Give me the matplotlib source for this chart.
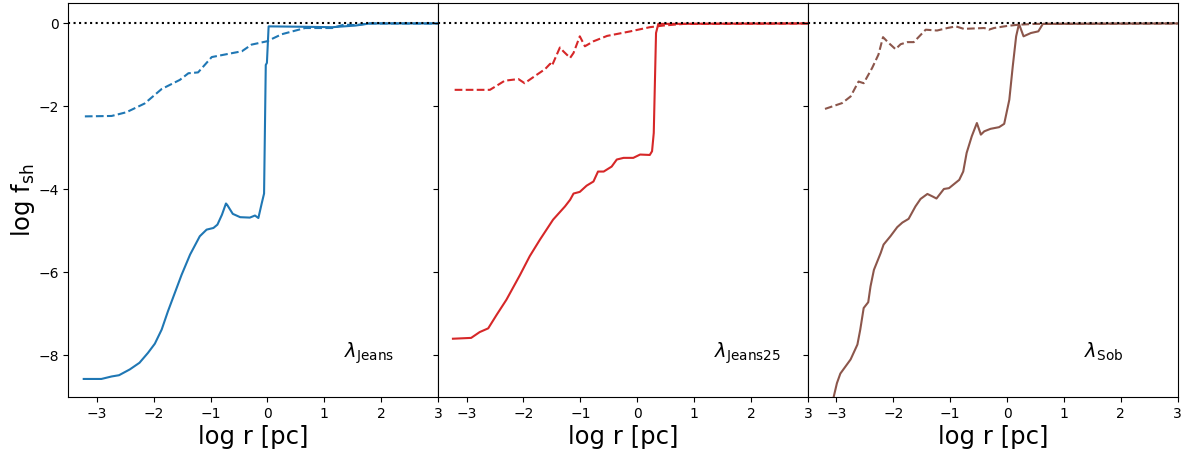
import numpy as np
import matplotlib.pyplot as plt

# panel 1: lambda_Jeans
x_j_dash = [-3.21, -2.74, -2.48, -2.16, -1.86, -1.54, -1.39, -1.22, -0.98, -0.45, -0.28, -0.01,
            0.25, 0.66, 1.14, 1.34, 1.55, 1.78, 3.0]
y_j_dash = [-2.24, -2.23, -2.14, -1.93, -1.58, -1.36, -1.20, -1.18, -0.81, -0.67, -0.51, -0.43,
            -0.26, -0.11, -0.11, -0.03, -0.04, 0.0, 0.0]
x_j_sol = [-3.23, -2.92, -2.74, -2.61, -2.42, -2.25, -2.10, -1.98, -1.86, -1.75, -1.63, -1.51,
           -1.36, -1.19, -1.07, -0.95, -0.88, -0.80, -0.73, -0.71, -0.61, -0.48, -0.31, -0.22,
           -0.16, -0.10, -0.06, -0.03, -0.01, 0.02, 0.66, 1.14, 1.55, 1.80, 3.0]
y_j_sol = [-8.57, -8.57, -8.51, -8.48, -8.34, -8.18, -7.94, -7.72, -7.38, -6.94, -6.50, -6.06,
           -5.57, -5.13, -4.97, -4.93, -4.85, -4.61, -4.34, -4.37, -4.59, -4.67, -4.68, -4.63,
           -4.69, -4.33, -4.10, -1.00, -0.95, -0.07, -0.08, -0.09, -0.05, 0.0, 0.0]

# panel 2: lambda_Jeans25
x_j25_dash = [-3.21, -2.59, -2.47, -2.33, -2.09, -1.98, -1.77, -1.62, -1.53, -1.50, -1.36, -1.30,
              -1.18, -1.12, -1.01, -0.92, -0.77, -0.53, -0.12, 0.22, 0.46, 0.82, 3.0]
y_j25_dash = [-1.60, -1.60, -1.50, -1.38, -1.34, -1.44, -1.24, -1.10, -0.97, -1.02, -0.58, -0.67,
              -0.83, -0.71, -0.31, -0.55, -0.43, -0.30, -0.19, -0.09, -0.05, -0.01, 0.0]
x_j25_sol = [-3.24, -2.92, -2.77, -2.62, -2.47, -2.30, -2.06, -1.89, -1.71, -1.48, -1.27, -1.18,
             -1.12, -1.01, -0.89, -0.77, -0.69, -0.59, -0.45, -0.36, -0.24, -0.07, 0.05, 0.22,
             0.26, 0.29, 0.33, 0.37, 3.0]
y_j25_sol = [-7.60, -7.58, -7.44, -7.35, -7.02, -6.66, -6.06, -5.61, -5.21, -4.73, -4.41, -4.25,
             -4.10, -4.06, -3.91, -3.81, -3.57, -3.57, -3.45, -3.28, -3.24, -3.24, -3.16, -3.17,
             -3.08, -2.64, -0.23, -0.01, 0.0]

# panel 3: lambda_Sob
x_sob_dash = [-3.20, -2.90, -2.75, -2.61, -2.52, -2.37, -2.26, -2.18, -2.08, -1.96, -1.87, -1.75,
              -1.64, -1.43, -1.23, -1.05, -0.90, -0.76, -0.40, -0.32, -0.23, 0.0, 0.20, 0.50, 3.0]
y_sob_dash = [-2.06, -1.92, -1.76, -1.40, -1.44, -1.07, -0.75, -0.33, -0.47, -0.62, -0.50, -0.45,
              -0.45, -0.15, -0.17, -0.11, -0.07, -0.13, -0.11, -0.15, -0.11, -0.06, -0.03, -0.01, 0.0]
x_sob_sol = [-3.15, -2.99, -2.93, -2.75, -2.63, -2.58, -2.52, -2.44, -2.40, -2.34, -2.22, -2.17,
             -2.05, -1.93, -1.84, -1.73, -1.61, -1.52, -1.40, -1.31, -1.24, -1.11, -1.02, -0.84,
             -0.77, -0.71, -0.62, -0.53, -0.46, -0.40, -0.29, -0.14, -0.05, 0.04, 0.10, 0.16,
             0.21, 0.29, 0.42, 0.55, 0.63, 3.0]
y_sob_sol = [-9.60, -8.67, -8.44, -8.10, -7.74, -7.38, -6.86, -6.72, -6.34, -5.94, -5.53, -5.33,
             -5.13, -4.91, -4.80, -4.71, -4.41, -4.23, -4.11, -4.17, -4.22, -3.99, -3.97, -3.77,
             -3.57, -3.12, -2.72, -2.40, -2.68, -2.60, -2.54, -2.50, -2.42, -1.84, -1.04, -0.31,
             -0.01, -0.31, -0.23, -0.19, -0.01, 0.0]

panels = [
    (x_j_dash, y_j_dash, x_j_sol, y_j_sol, 'tab:blue', r'$\lambda_{\rm Jeans}$'),
    (x_j25_dash, y_j25_dash, x_j25_sol, y_j25_sol, 'tab:red', r'$\lambda_{\rm Jeans25}$'),
    (x_sob_dash, y_sob_dash, x_sob_sol, y_sob_sol, 'tab:brown', r'$\lambda_{\rm Sob}$'),
]

fig, axes = plt.subplots(1, 3, sharey=True, figsize=(11.89, 4.54), dpi=100)
fig.subplots_adjust(left=0.0575, right=0.9905, top=0.994, bottom=0.126, wspace=0.0)

for ax, (xd, yd, xs, ys, c, lab) in zip(axes, panels):
    ax.plot(xd, yd, ls='--', color=c)
    ax.plot(xs, ys, ls='-', color=c)
    ax.axhline(0, color='black', ls=':', lw=1.5)
    ax.set_xlim(-3.5, 3)
    ax.set_ylim(-9, 0.5)
    ax.set_xticks([-3, -2, -1, 0, 1, 2, 3])
    ax.set_xlabel('log r [pc]', fontsize=17.5, labelpad=3)
    ax.text(1.35, -8.05, lab, fontsize=14)

axes[0].set_yticks([-8, -6, -4, -2, 0])
axes[0].set_ylabel(r'log $\rm f_{sh}$', fontsize=17.5, labelpad=1)

plt.savefig('out.png')
